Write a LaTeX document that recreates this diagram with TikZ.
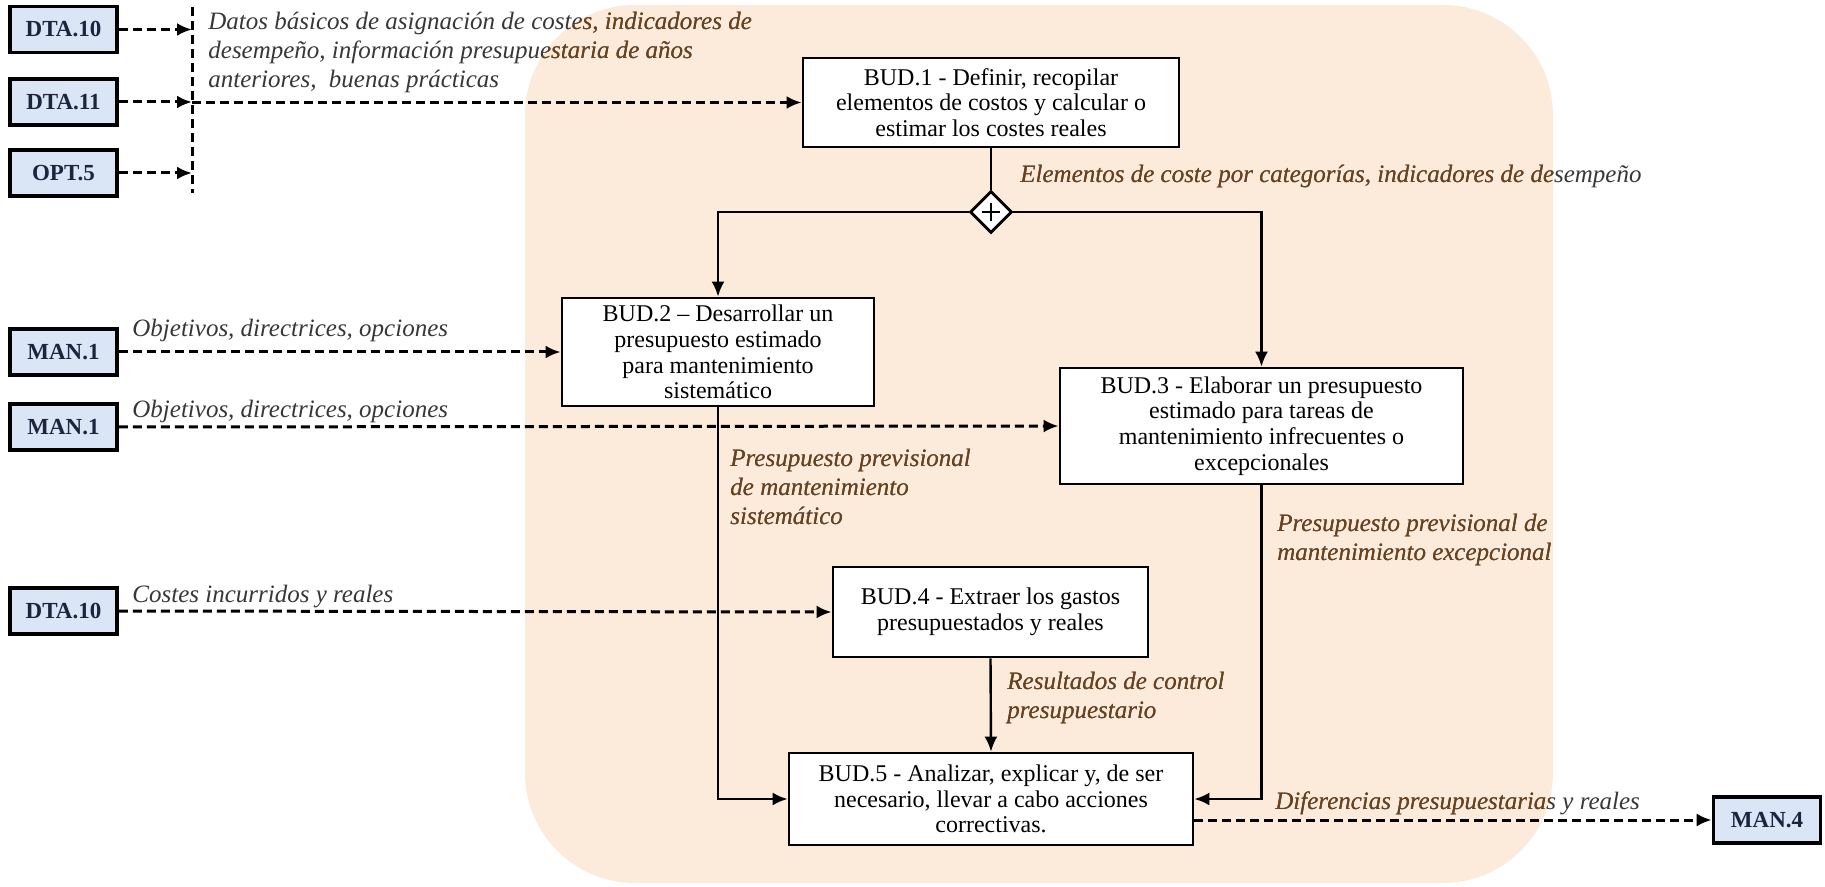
\documentclass[tikz,border=0pt]{standalone}
\usepackage{fontspec}
\setmainfont{Liberation Serif}
\usetikzlibrary{arrows.meta,shapes.geometric}

\definecolor{peach}{RGB}{252,234,218}
\definecolor{refblue}{RGB}{218,229,246}
\definecolor{refink}{RGB}{28,36,62}
\definecolor{lblgray}{RGB}{55,55,55}
\definecolor{lblbrown}{RGB}{108,66,28}

\tikzset{
  budbox/.style={draw=black, line width=1.4pt, fill=white, align=center,
    inner sep=0pt, font=\fontsize{12}{12.8}\selectfont, text=black},
  refbox/.style={draw=black, line width=1.8pt, fill=refblue,
    minimum width=53.5pt, minimum height=23pt, inner sep=0pt,
    font=\fontsize{11.5}{13}\selectfont\bfseries, text=refink},
  lbl/.style={align=left, inner sep=0pt,
    font=\fontsize{12.5}{14.5}\selectfont\itshape, text=lblgray},
  flow/.style={line width=1.2pt, -{Latex[length=7.5pt,width=6.5pt]}},
  feedline/.style={line width=1.5pt, dash pattern=on 4.5pt off 2.5pt},
  feed/.style={feedline, -{Latex[length=7.5pt,width=6.5pt]}},
  gate/.style={diamond, draw=black, line width=1.4pt, fill=white,
    minimum width=21pt, minimum height=21pt, inner sep=0pt,
    path picture={
      \draw[line width=1.4pt]
        ([xshift=-4.5pt]path picture bounding box.center) --
        ([xshift=4.5pt]path picture bounding box.center)
        ([yshift=-4.5pt]path picture bounding box.center) --
        ([yshift=4.5pt]path picture bounding box.center);}}
}

% flow labels, drawn twice: plain, then tinted inside the process area
\newcommand\flowlabels{%
  \node[lbl, anchor=north west] (lbldatos) at (208,12)
    {Datos básicos de asignación de costes, indicadores de\\
     desempeño, información presupuestaria de años\\
     anteriores,\ \ buenas prácticas};
  \node[lbl, anchor=west] (lblcat) at (1020,176)
    {Elementos de coste por categorías, indicadores de desempeño};
  \node[lbl, anchor=west] (lblobjA) at (132,330) {Objetivos, directrices, opciones};
  \node[lbl, anchor=west] (lblobjB) at (132,411) {Objetivos, directrices, opciones};
  \node[lbl, anchor=north west] (lblsis) at (730,449)
    {Presupuesto previsional\\de mantenimiento\\sistemático};
  \node[lbl, anchor=north west] (lblexc) at (1277,514)
    {Presupuesto previsional de\\mantenimiento excepcional};
  \node[lbl, anchor=west] (lblcost) at (132,597) {Costes incurridos y reales};
  \node[lbl, anchor=north west] (lblres) at (1007,672)
    {Resultados de control\\presupuestario};
  \node[lbl, anchor=west] (lbldif) at (1275,803) {Diferencias presupuestarias y reales};
}

\begin{document}
\begin{tikzpicture}[x=0.5pt,y=-0.5pt]
\useasboundingbox (0,0) rectangle (1825,887);

% process area
\fill[peach, rounded corners=55pt] (525,5) rectangle (1553,883);

\flowlabels
\begin{scope}
  \clip[rounded corners=55pt] (525,5) rectangle (1553,883);
  \tikzset{lbl/.append style={text=lblbrown}}
  \flowlabels
\end{scope}

% external references
\node[refbox] (dtaA) at (63.5,29.5) {DTA.10};
\node[refbox] (dtaB) at (63.5,102) {DTA.11};
\node[refbox] (opt)  at (63.5,173) {OPT.5};
\node[refbox] (manA) at (63.5,352) {MAN.1};
\node[refbox] (manB) at (63.5,427) {MAN.1};
\node[refbox] (dtaC) at (63.5,611) {DTA.10};
\node[refbox] (manC) at (1767,820) {MAN.4};

% process steps
\node[budbox, minimum width=188pt, minimum height=44.5pt] (bud1) at (991,102.5)
  {BUD.1 - Definir, recopilar\\elementos de costos y calcular o\\estimar los costes reales};
\node[budbox, minimum width=156pt, minimum height=54pt] (bud2) at (718,352)
  {BUD.2 – Desarrollar un\\presupuesto estimado\\para mantenimiento\\sistemático};
\node[budbox, minimum width=201.5pt, minimum height=58pt] (bud3) at (1261.5,426)
  {BUD.3 - Elaborar un presupuesto\\estimado para tareas de\\mantenimiento infrecuentes o\\excepcionales};
\node[budbox, minimum width=157.5pt, minimum height=45pt] (bud4) at (990.5,612)
  {BUD.4 - Extraer los gastos\\presupuestados y reales};
\node[budbox, minimum width=202pt, minimum height=46pt] (bud5) at (991,799)
  {BUD.5 - Analizar, explicar y, de ser\\necesario, llevar a cabo acciones\\correctivas.};

\node[gate] (gate) at (991,212) {};

% input bus
\coordinate (busN) at (192,7);
\coordinate (busS) at (192,193);
\draw[feedline] (busN) -- (busS);
\draw[feed] (dtaA.east) -- (dtaA.east -| busN);
\draw[feed] (dtaB.east) -- (dtaB.east -| busN);
\draw[feed] (opt.east)  -- (opt.east -| busN);
\draw[feed] (bud1.west -| busN) -- (bud1.west);

% other inputs and output
\draw[feed] (manA.east) -- (bud2.west);
\draw[feed] (manB.east) -- (bud3.west);
\draw[feed] (dtaC.east) -- (bud4.west);
\draw[feed] (bud5.east |- manC.west) -- (manC.west);

% internal flows
\draw[line width=1.2pt] (bud1.south) -- (gate.north);
\draw[flow] (gate.west) -| (bud2.north);
\draw[flow] (gate.east) -| (bud3.north);
\draw[flow] (bud2.south) |- (bud5.west);
\draw[flow] (bud3.south) |- (bud5.east);
\draw[flow] (bud4.south) -- (bud5.north);
\end{tikzpicture}
\end{document}
